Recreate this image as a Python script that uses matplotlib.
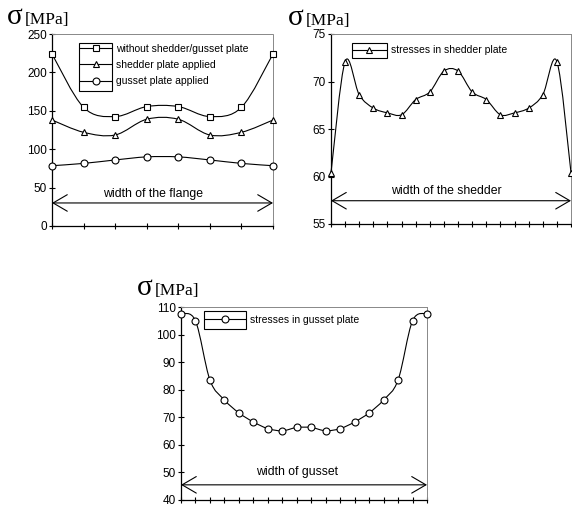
import numpy as np
import matplotlib
matplotlib.use("Agg")
import matplotlib.pyplot as plt
from matplotlib.path import Path
from matplotlib.patches import PathPatch, Rectangle
from matplotlib.lines import Line2D

plt.rcParams['font.family'] = ['Liberation Sans', 'DejaVu Sans']

# flange stresses [MPa]
flange_pos = list(range(8))
without_plate = [224, 154.5, 142.5, 155.5, 155.5, 142.5, 154.5, 224]
shedder_applied = [138, 122, 118.5, 139, 139, 118.5, 122, 138]
gusset_applied = [78.5, 81.5, 86, 90, 90, 86, 81.5, 78.5]
flange_labels = ["without shedder/gusset plate", "shedder plate applied", "gusset plate applied"]

# shedder plate stresses [MPa]
shedder_pos = list(range(18))
shedder_stress = [60.4, 72.1, 68.6, 67.2, 66.7, 66.5, 68.1, 68.9, 71.1,
                  71.1, 68.9, 68.1, 66.5, 66.7, 67.2, 68.6, 72.1, 60.4]

# gusset plate stresses [MPa]
gusset_pos = list(range(18))
gusset_stress = [107.6, 105.0, 83.5, 76.3, 71.6, 68.3, 65.9, 65.1, 66.3,
                 66.3, 65.1, 65.9, 68.3, 71.6, 76.3, 83.5, 105.0, 107.6]

W, H = 572, 507
fig = plt.figure(figsize=(W / 100, H / 100), dpi=100)


def px_axes(left, right, top, bottom):
    return fig.add_axes([left / W, 1 - bottom / H, (right - left) / W, (bottom - top) / H])


def smooth_path(xs, ys):
    # excel-like smoothed line: bezier through every point
    p = np.column_stack([xs, ys]).astype(float)
    ext = np.vstack([p[0], p, p[-1]])
    verts = [p[0]]
    codes = [Path.MOVETO]
    for i in range(len(p) - 1):
        p0, p1, p2, p3 = ext[i], ext[i + 1], ext[i + 2], ext[i + 3]
        verts += [p1 + (p2 - p0) / 6, p2 - (p3 - p1) / 6, p2]
        codes += [Path.CURVE4] * 3
    return Path(verts, codes)


def draw_series(ax, xs, ys, marker, ms):
    ax.add_patch(PathPatch(smooth_path(xs, ys), fill=False, lw=0.8, ec='black', clip_on=False))
    ax.plot(xs, ys, ls='none', marker=marker, ms=ms, mfc='white', mec='black', mew=0.8,
            clip_on=False, zorder=3)


def style_axes(ax, n, ylim, yticks):
    ax.set_xlim(0, n - 1)
    ax.set_ylim(*ylim)
    ax.set_xticks(range(n))
    ax.set_xticklabels([])
    ax.set_yticks(yticks)
    ax.tick_params(direction='inout', length=4.5, width=0.8, labelsize=8.5, pad=1.5)
    for s in ['left', 'bottom']:
        ax.spines[s].set_linewidth(0.9)
    for s in ['top', 'right']:
        ax.spines[s].set_linestyle((0, (1, 1)))
        ax.spines[s].set_color('#888888')
        ax.spines[s].set_linewidth(0.7)


def sigma_label(x, y):
    fig.text(x / W, 1 - y / H, "σ", fontsize=21, family='Liberation Serif', va='baseline')
    fig.text((x + 18) / W, 1 - y / H, "[MPa]", fontsize=12.5, family='Liberation Serif',
             va='baseline')


def width_arrow(ax, x0, x1, y, tx, ty, text):
    ax.annotate('', xy=(x0, y), xytext=(x1, y),
                arrowprops=dict(arrowstyle='<->,head_length=0.6,head_width=0.35', lw=0.8,
                                shrinkA=0, shrinkB=0, mutation_scale=17, color='black'))
    ax.text(tx, ty, text, ha='center', va='center', fontsize=8.8)


def legend_box(ax, handles, labels, left, right, top, bottom, first_y, fs, spacing):
    fig.patches.append(Rectangle((left / W, 1 - bottom / H), (right - left) / W, (bottom - top) / H,
                                 transform=fig.transFigure, fill=False, ec='black', lw=0.8))
    fpx = fs * 100 / 72
    hl = (right - left - 2) / fpx
    ax.legend(handles, labels, loc='upper left',
              bbox_to_anchor=((left + 1) / W, 1 - (first_y - 0.5 * fpx) / H),
              bbox_transform=fig.transFigure, frameon=False, fontsize=fs, borderpad=0,
              borderaxespad=0, handlelength=hl, handletextpad=0.45, labelspacing=spacing)


def proxy(marker, ms):
    return Line2D([], [], color='black', lw=0.8, marker=marker, ms=ms, mfc='white', mec='black', mew=0.8)


# chart 1 - flange
ax1 = px_axes(52, 273, 34, 226)
draw_series(ax1, flange_pos, without_plate, 's', 5)
draw_series(ax1, flange_pos, shedder_applied, '^', 5)
draw_series(ax1, flange_pos, gusset_applied, 'o', 5)
style_axes(ax1, len(flange_pos), (0, 250), range(0, 251, 50))
width_arrow(ax1, 0, 7, 30, 3.2, 42, "width of the flange")
legend_box(ax1, [proxy('s', 5), proxy('^', 5), proxy('o', 5)], flange_labels,
           79, 112, 43, 91, 49, 7.5, 0.6)
sigma_label(7, 24)

# chart 2 - shedder
ax2 = px_axes(331, 571, 34, 224)
draw_series(ax2, shedder_pos, shedder_stress, '^', 5)
style_axes(ax2, len(shedder_pos), (55, 75), range(55, 76, 5))
width_arrow(ax2, 0, 17, 57.45, 8.2, 58.45, "width of the shedder")
legend_box(ax2, [proxy('^', 5)], ["stresses in shedder plate"], 352, 387, 43, 58, 50.5, 7.5, 0.5)
sigma_label(288, 25)

# chart 3 - gusset
ax3 = px_axes(181, 427, 307, 500)
draw_series(ax3, gusset_pos, gusset_stress, 'o', 5)
style_axes(ax3, len(gusset_pos), (40, 110), range(40, 111, 10))
width_arrow(ax3, 0, 17, 45.5, 8.0, 50, "width of gusset")
legend_box(ax3, [proxy('o', 5)], ["stresses in gusset plate"], 204, 246, 311, 329, 320, 7.5, 0.5)
sigma_label(137, 295)

fig.savefig("out.png", dpi=100)
